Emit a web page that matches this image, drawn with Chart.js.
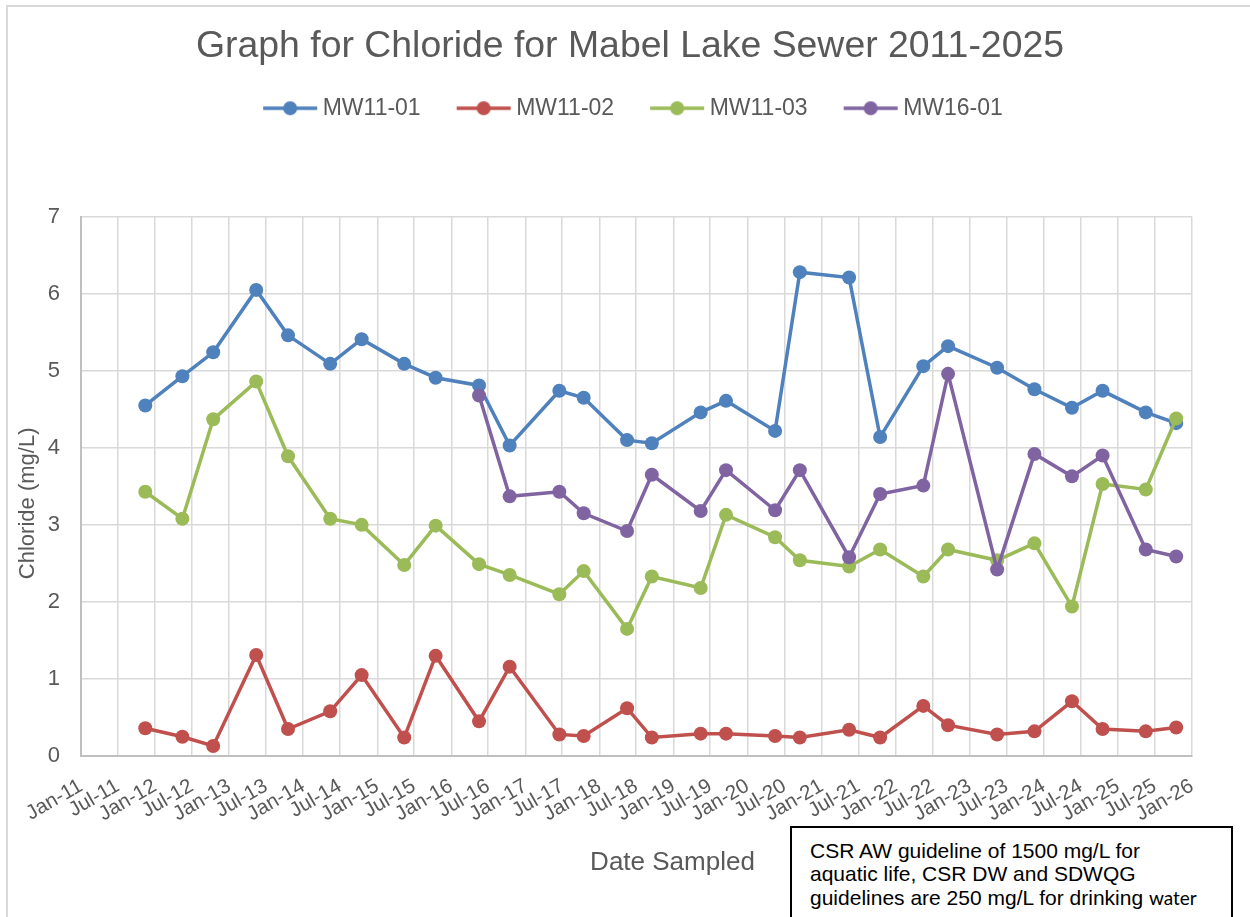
<!DOCTYPE html>
<html>
<head>
<meta charset="utf-8">
<title>Chloride – Mabel Lake Sewer</title>
<script src="https://cdn.jsdelivr.net/npm/chart.js@4.4.1/dist/chart.umd.min.js"></script>
<style>
  html, body { margin: 0; padding: 0; background: #fff; overflow: hidden; }
  #wrap { position: relative; width: 1250px; height: 917px; overflow: hidden; }
  #frame { position: absolute; left: 6px; top: 5px; width: 1300px; height: 1000px;
           border-left: 2px solid #d9d9d9; border-top: 2px solid #d9d9d9; }
  #chart { position: absolute; left: 0; top: 0; }
  #note { position: absolute; left: 790px; top: 826px; width: 443px; height: 120px;
          box-sizing: border-box; border: 2px solid #000; background: #fff;
          padding: 11px 0 0 18px; white-space: nowrap;
          font: 21px/23.3px 'Liberation Sans', Arial, sans-serif; color: #000; }
  #note .w { font-family: Lato, sans-serif; font-size: 19px; }
</style>
</head>
<body>
<div id="wrap">
  <div id="frame"></div>
  <canvas id="chart" width="1250" height="917"></canvas>
  <div id="note">CSR AW guideline of 1500 mg/L for<br>aquatic life, CSR DW and SDWQG<br>guidelines are 250 mg/L for drinking <span class="w">water</span></div>
</div>
<script>
// Sampling dates (YYYY-MM-DD)
const sampleDates = [
  '2011-11-14', '2012-05-15', '2012-10-14', '2013-05-14', '2013-10-18',
  '2014-05-14', '2014-10-16', '2015-05-14', '2015-10-16', '2016-05-17',
  '2016-10-15', '2017-06-17', '2017-10-15', '2018-05-17', '2018-09-16',
  '2019-05-15', '2019-09-17', '2020-05-16', '2020-09-15', '2021-05-16',
  '2021-10-16', '2022-05-17', '2022-09-16', '2023-05-16', '2023-11-16',
  '2024-05-19', '2024-10-17', '2025-05-18', '2025-10-15'
];

// Chloride concentrations (mg/L) per monitoring well
const mw1101 = [4.55, 4.93, 5.24, 6.05, 5.46, 5.09, 5.41, 5.09, 4.91, 4.81,
                4.03, 4.74, 4.65, 4.10, 4.06, 4.46, 4.61, 4.22, 6.28, 6.21,
                4.14, 5.06, 5.32, 5.04, 4.76, 4.52, 4.74, 4.46, 4.32];
const mw1102 = [0.36, 0.25, 0.13, 1.31, 0.35, 0.58, 1.05, 0.24, 1.30, 0.45,
                1.16, 0.28, 0.26, 0.62, 0.24, 0.29, 0.29, 0.26, 0.24, 0.34,
                0.24, 0.65, 0.40, 0.28, 0.32, 0.71, 0.35, 0.32, 0.37];
const mw1103 = [3.43, 3.08, 4.37, 4.86, 3.89, 3.08, 3.00, 2.48, 2.99, 2.49,
                2.35, 2.10, 2.40, 1.65, 2.33, 2.18, 3.13, 2.84, 2.54, 2.46,
                2.68, 2.33, 2.68, 2.54, 2.76, 1.94, 3.53, 3.46, 4.38];
const mw1601 = [null, null, null, null, null, null, null, null, null, 4.68,
                3.37, 3.43, 3.15, 2.92, 3.65, 3.18, 3.71, 3.19, 3.71, 2.58,
                3.40, 3.51, 4.96, 2.42, 3.92, 3.63, 3.90, 2.68, 2.59];

const seriesNames = ['MW11-01', 'MW11-02', 'MW11-03', 'MW16-01'];
const seriesValues = [mw1101, mw1102, mw1103, mw1601];
const seriesColors = ['#4F81BD', '#C0504D', '#9BBB59', '#8064A2'];

// Half-year axis labels
const tickLabels = [
  'Jan-11', 'Jul-11', 'Jan-12', 'Jul-12', 'Jan-13', 'Jul-13', 'Jan-14', 'Jul-14',
  'Jan-15', 'Jul-15', 'Jan-16', 'Jul-16', 'Jan-17', 'Jul-17', 'Jan-18', 'Jul-18',
  'Jan-19', 'Jul-19', 'Jan-20', 'Jul-20', 'Jan-21', 'Jul-21', 'Jan-22', 'Jul-22',
  'Jan-23', 'Jul-23', 'Jan-24', 'Jul-24', 'Jan-25', 'Jul-25', 'Jan-26'
];
const yTicks = [0, 1, 2, 3, 4, 5, 6, 7];

const chartTitle = 'Graph for Chloride for Mabel Lake Sewer 2011-2025';
const xTitle = 'Date Sampled';
const yTitle = 'Chloride (mg/L)';

// ---- helpers ----
const toMs = s => { const [y, m, d] = s.split('-').map(Number); return Date.UTC(y, m - 1, d); };
const labelMs = l => Date.UTC(2000 + Number(l.slice(4)), l.startsWith('Jan') ? 0 : 6, 1);
const tickValues = tickLabels.map(labelMs);

const FONT = "'Liberation Sans', Arial, Helvetica, sans-serif";
Chart.defaults.font.family = FONT;
Chart.defaults.color = '#595959';

// Legend symbol: short line with a round marker
function legendMark(color) {
  const c = document.createElement('canvas');
  c.width = 68; c.height = 18;
  const g = c.getContext('2d');
  g.strokeStyle = color; g.lineWidth = 3.5; g.lineCap = 'butt';
  g.beginPath(); g.moveTo(13, 9); g.lineTo(67, 9); g.stroke();
  g.fillStyle = color;
  g.beginPath(); g.arc(40, 9, 7, 0, Math.PI * 2); g.fill();
  return c;
}
const legendMarks = seriesColors.map(legendMark);

// Axis captions placed relative to the plot area
const axisCaptions = {
  id: 'axisCaptions',
  afterDraw(chart) {
    const { ctx, chartArea: a } = chart;
    ctx.save();
    ctx.fillStyle = '#595959';
    ctx.textAlign = 'center';
    ctx.textBaseline = 'middle';
    ctx.font = '26px ' + FONT;
    ctx.fillText(xTitle, (a.left + a.right) / 2 + 36, a.bottom + 107);
    ctx.font = '22px ' + FONT;
    ctx.translate(28, (a.top + a.bottom) / 2 + 17);
    ctx.rotate(-Math.PI / 2);
    ctx.fillText(yTitle, 0, 0);
    ctx.restore();
  }
};

const datasets = seriesNames.map((name, i) => ({
  label: name,
  data: sampleDates.map((d, k) => ({ x: toMs(d), y: seriesValues[i][k] })),
  borderColor: seriesColors[i],
  backgroundColor: seriesColors[i],
  pointBackgroundColor: seriesColors[i],
  pointBorderColor: seriesColors[i],
  borderWidth: 3.5,
  pointRadius: 7,
  pointHoverRadius: 7,
  pointBorderWidth: 0,
  tension: 0,
  order: seriesNames.length - i   // later wells drawn on top
}));

new Chart(document.getElementById('chart'), {
  type: 'line',
  data: { datasets },
  plugins: [axisCaptions],
  options: {
    responsive: false,
    animation: false,
    events: [],
    layout: { padding: { left: 10, right: 0, top: 0, bottom: 0 } },
    scales: {
      x: {
        type: 'linear',
        min: tickValues[0],
        max: tickValues[tickValues.length - 1],
        afterBuildTicks(scale) { scale.ticks = tickValues.map(v => ({ value: v })); },
        afterFit(scale) { scale.height = 161; },
        ticks: {
          autoSkip: false,
          minRotation: 30,
          maxRotation: 30,
          padding: 18,
          color: '#595959',
          font: { size: 20.5 },
          callback: (v, i) => tickLabels[i]
        },
        grid: { color: '#d9d9d9', lineWidth: 1.5, drawTicks: false },
        border: { color: '#bfbfbf', width: 2 }
      },
      y: {
        min: yTicks[0],
        max: yTicks[yTicks.length - 1],
        afterBuildTicks(scale) { scale.ticks = yTicks.map(v => ({ value: v })); },
        afterFit(scale) { scale.width = 71; },
        ticks: { padding: 21, color: '#595959', font: { size: 22 } },
        grid: { color: '#d9d9d9', lineWidth: 1.5, drawTicks: false },
        border: { color: '#bfbfbf', width: 2 }
      },
      yRight: {
        position: 'right',
        display: true,
        afterFit(scale) { scale.width = 58; },
        ticks: { display: false },
        grid: { display: false },
        border: { display: false }
      }
    },
    plugins: {
      title: {
        display: true,
        text: chartTitle,
        color: '#595959',
        font: { size: 37.4, weight: 'normal', lineHeight: 1 },
        padding: { top: 28.3, bottom: 1 }
      },
      legend: {
        display: true,
        position: 'top',
        align: 'center',
        labels: {
          usePointStyle: true,
          pointStyleWidth: 54,
          padding: 30,
          color: '#595959',
          font: { size: 23 },
          sort: (a, b) => a.datasetIndex - b.datasetIndex,
          generateLabels(chart) {
            const items = Chart.defaults.plugins.legend.labels.generateLabels(chart);
            items.forEach(it => { it.pointStyle = legendMarks[it.datasetIndex]; });
            return items;
          }
        }
      },
      // blank band between the legend and the plot area
      subtitle: {
        display: true,
        text: '',
        weight: 500,
        font: { size: 10, lineHeight: 1 },
        padding: { top: 77.0, bottom: 0 }
      },
      tooltip: { enabled: false }
    }
  }
});
</script>
</body>
</html>
